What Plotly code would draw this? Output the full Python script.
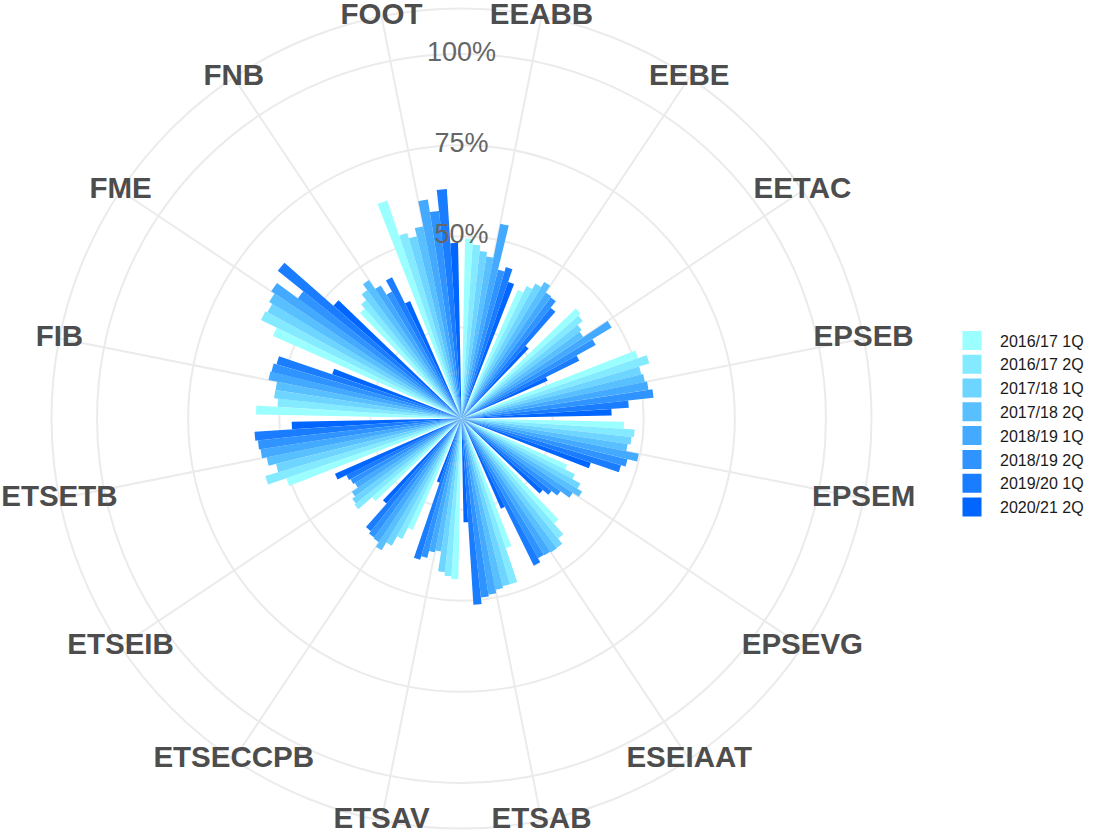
import plotly.graph_objects as go

categories = ["EEABB", "EEBE", "EETAC", "EPSEB", "EPSEM", "EPSEVG", "ESEIAAT", "ETSAB",
              "ETSAV", "ETSECCPB", "ETSEIB", "ETSETB", "FIB", "FME", "FNB", "FOOT"]

series_names = ["2016/17 1Q", "2016/17 2Q", "2017/18 1Q", "2017/18 2Q",
                "2018/19 1Q", "2018/19 2Q", "2019/20 1Q", "2020/21 2Q"]

# percentage values, one list per series (in category order)
s_2016_17_1Q = [49.4, 38.5, 43.5, 51.2, 44.6, 31.7, 38.4, 37.6, 44.1, 33.4, 32.7, 50.8, 56.4, 56.5, 40.2, 63.2]
s_2016_17_2Q = [47.8, 40.5, 42.7, 53.7, 47.6, 34.7, 42.3, 47.4, 43.4, 36.8, 37.7, 56.1, 50.6, 61.3, 41.7, 53.0]
s_2017_18_1Q = [46.2, 42.2, 40.9, 50.8, 46.9, 37.2, 44.1, 47.4, 42.4, 39.8, 37.2, 52.4, 51.7, 60.7, 43.7, 51.5]
s_2017_18_2Q = [45.0, 43.8, 40.2, 51.3, 46.1, 38.7, 44.2, 47.9, 36.9, 42.3, 36.2, 54.5, 51.6, 61.7, 45.7, 53.8]
s_2018_19_1Q = [54.5, 41.6, 48.2, 51.9, 49.6, 36.7, 43.9, 48.9, 37.4, 40.8, 34.2, 55.8, 54.0, 62.8, 42.7, 60.8]
s_2018_19_2Q = [42.0, 41.3, 42.0, 53.0, 46.9, 33.7, 43.7, 49.4, 39.4, 40.5, 34.7, 56.2, 53.7, 55.7, 39.7, 57.3]
s_2019_20_1Q = [43.3, 39.0, 36.0, 46.0, 45.6, 31.7, 45.0, 51.2, 40.4, 39.7, 35.2, 56.9, 52.9, 64.7, 43.2, 63.1]
s_2020_21_2Q = [39.6, 26.6, 25.8, 41.2, 37.5, 29.7, 27.0, 28.5, 18.6, 31.1, 37.9, 46.6, 37.5, 46.8, 35.2, 48.2]

series_values = [s_2016_17_1Q, s_2016_17_2Q, s_2017_18_1Q, s_2017_18_2Q,
                 s_2018_19_1Q, s_2018_19_2Q, s_2019_20_1Q, s_2020_21_2Q]

colors = ["#9CFFFF", "#84EAFF", "#6DD5FF", "#58C0FF", "#44AAFF", "#2F94FF", "#1A7DFF", "#0066FF"]

radial_ticks = [25, 50, 75, 100]
radial_labels = ["50%", "75%", "100%"]
radial_label_vals = [50, 75, 100]

n_cat = len(categories)
n_ser = len(series_names)
unit = 360.0 / n_cat          # degrees per category
group_w = 0.9                 # dodge width (fraction of a category)
bar_w = group_w / n_ser
cat_centers = [(i + 0.5) * unit for i in range(n_cat)]
r_max = 100 / 0.4 * 0.45      # outer ring, as in ggplot coord_polar

fig = go.Figure()
for j, (name, vals) in enumerate(zip(series_names, series_values)):
    thetas = [(i + 0.5 - group_w / 2 + bar_w * (j + 0.5)) * unit for i in range(n_cat)]
    fig.add_trace(go.Barpolar(
        r=vals, theta=thetas, width=[bar_w * unit] * n_cat,
        marker=dict(color=colors[j], line=dict(width=0)),
        name=name, showlegend=False, hoverinfo="skip",
    ))

# legend entries
for j, name in enumerate(series_names):
    fig.add_trace(go.Scatterpolar(
        r=[None], theta=[None], mode="markers",
        marker=dict(symbol="square", size=19, color=colors[j],
                    line=dict(width=3, color=colors[j])),
        name=name, showlegend=True,
    ))

# radial labels
fig.add_trace(go.Scatterpolar(
    r=radial_label_vals, theta=[0] * len(radial_label_vals), mode="text",
    text=radial_labels, textposition="middle center",
    textfont=dict(family="Liberation Sans, Arial, sans-serif", size=27, color="#666666"),
    showlegend=False, hoverinfo="skip", cliponaxis=False,
))

# category labels centred on the outer ring
fig.add_trace(go.Scatterpolar(
    r=[r_max] * n_cat, theta=cat_centers, mode="text",
    text=categories, textposition="middle center",
    textfont=dict(family="Liberation Sans, Arial, sans-serif", size=29.5, color="#4D4D4D", weight="bold"),
    showlegend=False, hoverinfo="skip", cliponaxis=False,
))

W, H = 1100, 836
cx, cy, R = 461.5, 418.5, 410
fig.update_layout(
    width=W, height=H,
    margin=dict(l=0, r=0, t=0, b=0),
    paper_bgcolor="white",
    polar=dict(
        domain=dict(x=[(cx - R) / W, (cx + R) / W], y=[max(0, 1 - (cy + R) / H), min(1, 1 - (cy - R) / H)]),
        bgcolor="white",
        radialaxis=dict(range=[0, r_max], tickvals=radial_ticks, showticklabels=False,
                        ticks="", showline=False, gridcolor="#EBEBEB", gridwidth=2,
                        layer="below traces"),
        angularaxis=dict(rotation=90, direction="clockwise", thetaunit="degrees",
                         tickvals=cat_centers, showticklabels=False, ticks="",
                         showline=True, linecolor="#EBEBEB", linewidth=2,
                         gridcolor="#EBEBEB", gridwidth=2, layer="below traces"),
    ),
    legend=dict(x=944 / W, xanchor="left", y=1 - 424 / H, yanchor="middle",
                font=dict(family="Liberation Sans, Arial, sans-serif", size=16, color="#1A1A1A"),
                itemwidth=46, bgcolor="rgba(0,0,0,0)"),
    showlegend=True,
)

fig.write_html("out.html", config={"displayModeBar": False},
               post_script="document.body.style.margin='0px';")
